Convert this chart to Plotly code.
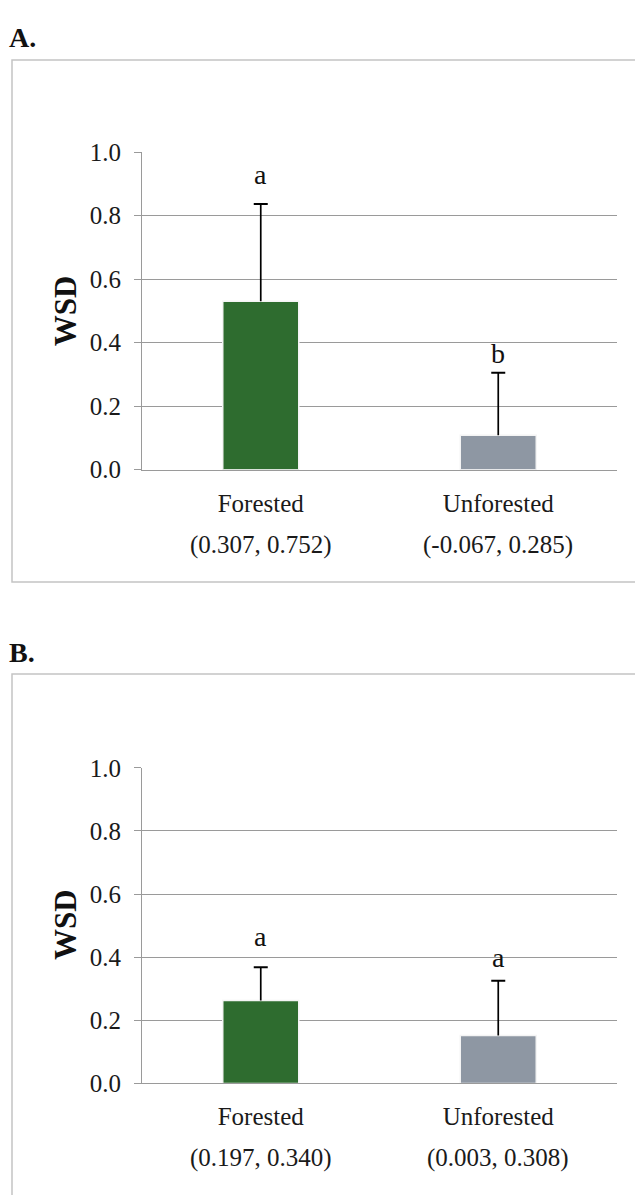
import plotly.graph_objects as go

# ---- data ----
categories = ["Forested", "Unforested"]
ci_labels_A = ["(0.307, 0.752)", "(-0.067, 0.285)"]
ci_labels_B = ["(0.197, 0.340)", "(0.003, 0.308)"]
wsd_A = [0.53, 0.108]
err_A = [0.306, 0.197]
wsd_B = [0.263, 0.152]
err_B = [0.105, 0.173]
letters_A = ["a", "b"]
letters_B = ["a", "a"]
y_ticks = [0.0, 0.2, 0.4, 0.6, 0.8, 1.0]

# ---- styling / layout params ----
W, H = 643, 1195
OFF = 8  # default body margin of the written page
bar_colors = ["#2e6c2f", "#8e97a3"]
grid_col = "#9a9a9a"
FONT = "Liberation Serif"
TXT = 25
letter_y_A = [0.93, 0.365]
letter_y_B = [0.464, 0.400]
BSH = 8  # vertical adjustment of panel B

def py(px):
    return 1 - (px - OFF) / H

def px_x(px):
    return (px - OFF) / W

xdom = [px_x(142), px_x(617)]
ydom_A = [py(467), py(142)]
ydom_B = [py(1087 + BSH), py(764 + BSH)]

fig = go.Figure()

panels = [(wsd_A, err_A, "x", "y"), (wsd_B, err_B, "x2", "y2")]
for vals, errs, xa, ya in panels:
    fig.add_trace(go.Bar(
        x=categories, y=vals, xaxis=xa, yaxis=ya,
        marker=dict(color=bar_colors, line=dict(color="#f4f4f4", width=1.5)),
        showlegend=False, hoverinfo="skip",
    ))
    # upper-only error bars: stem from bar top + cap
    ex, ey = [], []
    for c, v, e in zip(categories, vals, errs):
        ex += [c, c, None]
        ey += [v, v + e, None]
    fig.add_trace(go.Scatter(
        x=ex, y=ey, xaxis=xa, yaxis=ya, mode="lines",
        line=dict(color="black", width=1.7), showlegend=False, hoverinfo="skip",
    ))
    fig.add_trace(go.Scatter(
        x=categories, y=[v + e for v, e in zip(vals, errs)], xaxis=xa, yaxis=ya,
        mode="markers",
        marker=dict(symbol="line-ew", size=10, line=dict(color="black", width=2)),
        showlegend=False, hoverinfo="skip",
    ))

axis_common_y = dict(
    range=[0, 1.0001], tickvals=y_ticks, tickformat=".1f",
    showgrid=True, gridcolor=grid_col, gridwidth=1,
    showline=True, linecolor=grid_col, linewidth=1,
    ticks="outside", ticklen=7, tickcolor=grid_col,
    zeroline=False, ticklabelstandoff=8,
    tickfont=dict(family=FONT, size=TXT, color="#1a1a1a"),
    fixedrange=True,
)
axis_common_x = dict(
    showgrid=False, showline=True, linecolor=grid_col, linewidth=1,
    ticks="", zeroline=False, ticklabelstandoff=11,
    tickfont=dict(family=FONT, size=TXT, color="#1a1a1a"),
    fixedrange=True,
)

fig.update_layout(
    width=W, height=H,
    margin=dict(l=0, r=0, t=0, b=0),
    paper_bgcolor="white", plot_bgcolor="white",
    bargap=0.68,
    xaxis=dict(domain=xdom, anchor="y", **axis_common_x),
    yaxis=dict(domain=ydom_A, anchor="x", **axis_common_y),
    xaxis2=dict(domain=xdom, anchor="y2", **axis_common_x),
    yaxis2=dict(domain=ydom_B, anchor="x2", **axis_common_y),
)

annotations = []
# significance letters
for cat, lt, ly in zip(categories, letters_A, letter_y_A):
    annotations.append(dict(x=cat, y=ly, xref="x", yref="y", text=lt, showarrow=False,
                            font=dict(family=FONT, size=28, color="#111"), yanchor="middle"))
for cat, lt, ly in zip(categories, letters_B, letter_y_B):
    annotations.append(dict(x=cat, y=ly, xref="x2", yref="y2", text=lt, showarrow=False,
                            font=dict(family=FONT, size=28, color="#111"), yanchor="middle"))
# CI labels
for cat, ci in zip(categories, ci_labels_A):
    annotations.append(dict(x=cat, y=py(544), xref="x", yref="paper", text=ci, showarrow=False,
                            font=dict(family=FONT, size=TXT, color="#1a1a1a"), yanchor="middle"))
for cat, ci in zip(categories, ci_labels_B):
    annotations.append(dict(x=cat, y=py(1163 + BSH), xref="x2", yref="paper", text=ci,
                            showarrow=False,
                            font=dict(family=FONT, size=TXT, color="#1a1a1a"), yanchor="middle"))
# axis titles
for yc in [py(305), py(925 + BSH)]:
    annotations.append(dict(x=px_x(65), y=yc, xref="paper", yref="paper", text="<b>WSD</b>",
                            textangle=-90, showarrow=False,
                            font=dict(family=FONT, size=31, color="#111"),
                            xanchor="center", yanchor="middle"))
# panel labels
annotations.append(dict(x=px_x(7), y=py(25), xref="paper", yref="paper", text="<b>A.</b>",
                        showarrow=False, font=dict(family=FONT, size=28, color="#111"),
                        xanchor="left", yanchor="middle"))
annotations.append(dict(x=px_x(7), y=py(646 + BSH), xref="paper", yref="paper", text="<b>B.</b>",
                        showarrow=False, font=dict(family=FONT, size=28, color="#111"),
                        xanchor="left", yanchor="middle"))
fig.update_layout(annotations=annotations)

# panel frames
fig.add_shape(type="rect", xref="paper", yref="paper",
              x0=px_x(12), x1=1.2, y0=py(582), y1=py(48),
              line=dict(color="#c4c4c4", width=1.5), layer="below")
fig.add_shape(type="rect", xref="paper", yref="paper",
              x0=px_x(12), x1=1.2, y0=-0.2, y1=py(668 + BSH),
              line=dict(color="#c4c4c4", width=1.5), layer="below")

fig.write_html("out.html")
